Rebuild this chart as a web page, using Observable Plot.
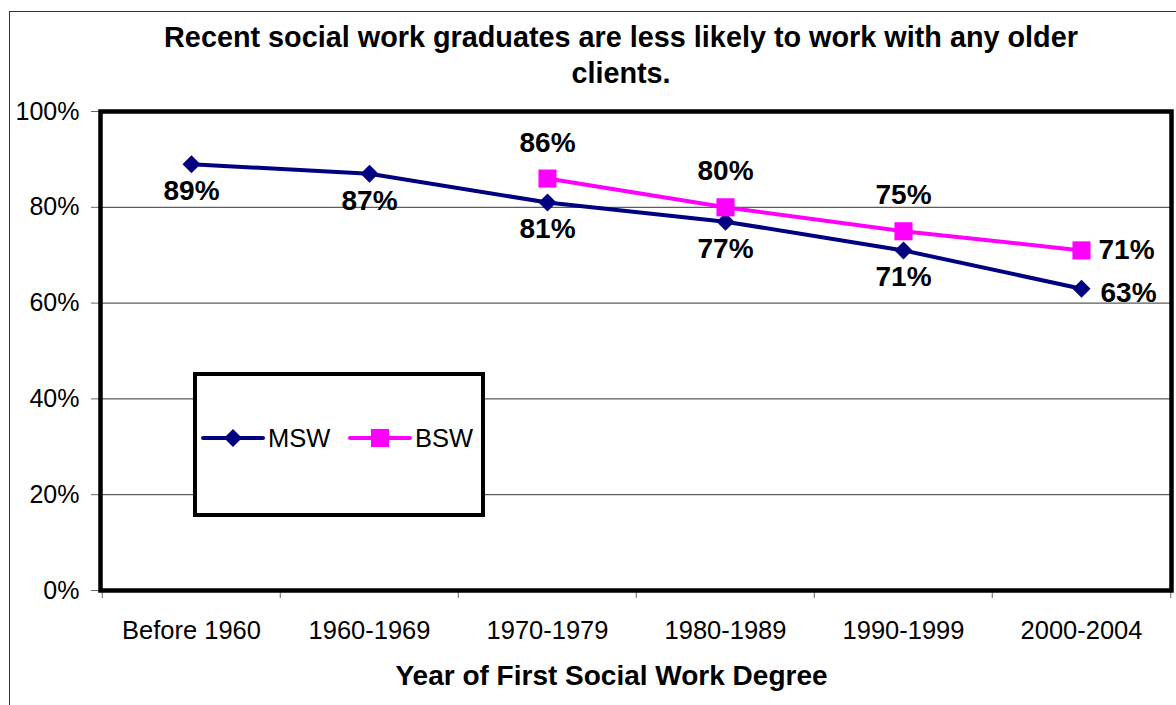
<!DOCTYPE html>
<html>
<head>
<meta charset="utf-8">
<script src="https://cdn.jsdelivr.net/npm/d3@7"></script>
<script src="https://cdn.jsdelivr.net/npm/@observablehq/plot@0.6"></script>
<style>
  body { margin: 0; background: #fff; }
  #wrap { position: relative; width: 1176px; height: 705px; overflow: hidden; font-family: Arial, "Liberation Sans", sans-serif; }
  #border { position: absolute; left: 9px; top: 11px; width: 1300px; height: 900px; border-left: 1.5px solid #333; border-top: 1.5px solid #333; }
  #chart { position: absolute; left: 0; top: 0; }
  #title { position: absolute; left: 0; width: 1242px; top: 19px; text-align: center; font-weight: bold; font-size: 28.8px; line-height: 36px; color: #000; }
  #xtitle { position: absolute; left: 0; width: 1223px; top: 662px; text-align: center; font-weight: bold; font-size: 28px; line-height: 28px; color: #000; }
  #legend { position: absolute; left: 193px; top: 372px; width: 292px; height: 145px; box-sizing: border-box; border: 4.5px solid #000; background: #fff; }
  #legend svg { position: absolute; left: -4.5px; top: -4.5px; }
</style>
</head>
<body>
<div id="wrap">
  <div id="border"></div>
  <div id="chart"></div>
  <div id="title">Recent social work graduates are less likely to work with any older<br>clients.</div>
  <div id="xtitle">Year of First Social Work Degree</div>
  <div id="legend"></div>
</div>
<script>
const categories = ["Before 1960", "1960-1969", "1970-1979", "1980-1989", "1990-1999", "2000-2004"];
const mswValues = [0.89, 0.87, 0.81, 0.77, 0.71, 0.63];
const bswValues = [null, null, 0.86, 0.80, 0.75, 0.71];
const yTicks = [0, 0.2, 0.4, 0.6, 0.8, 1.0];
const gridTicks = [0.2, 0.4, 0.6, 0.8];
const seriesNames = ["MSW", "BSW"];
const seriesColors = ["#000080", "#FF00FF"];

const msw = categories.map((c, i) => ({cat: c, v: mswValues[i]}));
const bsw = categories.map((c, i) => ({cat: c, v: bswValues[i]})).filter(d => d.v != null);
const last = categories[categories.length - 1];

const W = 1176, H = 705, mL = 100, mR = 5, mT = 111, mB = 115;
const step = (W - mL - mR) / categories.length;
const pct = d3.format(".0%");
const lbl = {fontWeight: "bold", fontSize: 28, fill: "#000"};

const chart = Plot.plot({
  width: W, height: H,
  marginLeft: mL, marginRight: mR, marginTop: mT, marginBottom: mB,
  style: {fontFamily: "Arial, 'Liberation Sans', sans-serif", background: "transparent", color: "#000"},
  x: {type: "point", domain: categories, padding: 0.5},
  y: {domain: [0, 1]},
  marks: [
    Plot.ruleY(gridTicks, {stroke: "#333", strokeWidth: 1}),
    Plot.axisY({ticks: yTicks, tickFormat: pct, tickSize: 9, tickPadding: 12, fontSize: 25, stroke: "#666", fill: "#000", label: null}),
    Plot.axisX({ticks: categories, tickSize: 0, tickPadding: 30, fontSize: 25.5, fill: "#000", label: null}),
    Plot.axisX({ticks: categories, tickSize: 8, tickFormat: () => "", dx: -step / 2, stroke: "#666", label: null}),
    Plot.axisX({ticks: [last], tickSize: 8, tickFormat: () => "", dx: step / 2, stroke: "#666", label: null}),
    Plot.frame({stroke: "#000", strokeWidth: 4.5}),
    Plot.line(msw, {x: "cat", y: "v", stroke: seriesColors[0], strokeWidth: 4}),
    Plot.line(bsw, {x: "cat", y: "v", stroke: seriesColors[1], strokeWidth: 4}),
    Plot.dot(msw, {x: "cat", y: "v", symbol: "diamond2", r: 8.1, fill: seriesColors[0], stroke: "none"}),
    Plot.dot(bsw, {x: "cat", y: "v", symbol: "square", r: 10.2, fill: seriesColors[1], stroke: "none"}),
    Plot.text(msw.filter(d => d.cat !== last), {x: "cat", y: "v", text: d => pct(d.v), dy: 27, ...lbl}),
    Plot.text(bsw.filter(d => d.cat !== last), {x: "cat", y: "v", text: d => pct(d.v), dy: -36, ...lbl}),
    Plot.text(msw.filter(d => d.cat === last), {x: "cat", y: "v", text: d => pct(d.v), dx: 19, dy: 4, textAnchor: "start", ...lbl}),
    Plot.text(bsw.filter(d => d.cat === last), {x: "cat", y: "v", text: d => pct(d.v), dx: 17, dy: 0, textAnchor: "start", ...lbl})
  ]
});
document.getElementById("chart").appendChild(chart);

// Legend
const lg = d3.select("#legend").append("svg").attr("width", 292).attr("height", 145);
const items = [
  {name: seriesNames[0], color: seriesColors[0], sym: d3.symbolDiamond2, size: Math.PI * 8.1 * 8.1, x0: 10},
  {name: seriesNames[1], color: seriesColors[1], sym: d3.symbolSquare, size: Math.PI * 10.2 * 10.2, x0: 157}
];
items.forEach(it => {
  const g = lg.append("g").attr("transform", `translate(${it.x0},66)`);
  g.append("line").attr("x1", 0).attr("x2", 60).attr("stroke", it.color).attr("stroke-width", 4).attr("stroke-linecap", "round");
  g.append("path").attr("transform", "translate(30,0)").attr("d", d3.symbol(it.sym, it.size)()).attr("fill", it.color);
  g.append("text").attr("x", 65).attr("y", 0).attr("dy", "0.36em").attr("font-size", 25.5)
    .attr("font-family", "Arial, 'Liberation Sans', sans-serif").attr("fill", "#000").text(it.name);
});
</script>
</body>
</html>
